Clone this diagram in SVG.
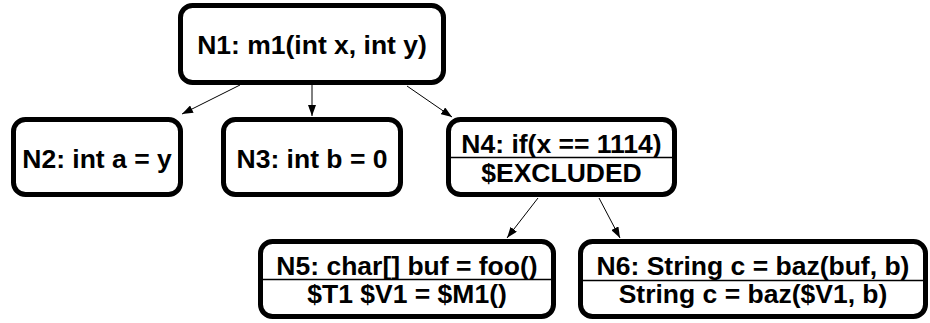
<svg xmlns="http://www.w3.org/2000/svg" width="930" height="323" viewBox="0 0 930 323">
  <style>
    .box { fill: #ffffff; stroke: #000000; stroke-width: 5; }
    .sep { stroke: #000000; stroke-width: 1.5; }
    .lbl { font-family: "Liberation Sans", Arial, sans-serif; font-weight: bold; font-size: 26.5px; fill: #000000; text-anchor: middle; }
    .edge { stroke: #000000; stroke-width: 1; fill: none; marker-end: url(#head); }
  </style>
  <defs>
    <marker id="head" markerUnits="userSpaceOnUse" markerWidth="12" markerHeight="8" refX="11" refY="4" orient="auto">
      <path d="M0,0 L11,4 L0,8 z" fill="#000000"/>
    </marker>
  </defs>

  <rect x="0" y="0" width="930" height="323" fill="#ffffff"/>

  <g id="connectors">
    <line class="edge" x1="240" y1="85" x2="182" y2="114"/>
    <line class="edge" x1="312" y1="85" x2="312" y2="116"/>
    <line class="edge" x1="407" y1="86" x2="452" y2="117"/>
    <line class="edge" x1="538" y1="198" x2="507" y2="238"/>
    <line class="edge" x1="599" y1="198" x2="620" y2="238"/>
  </g>

  <g id="N1">
    <rect class="box" x="180.5" y="5.5" width="263" height="77" rx="12"/>
    <text class="lbl" x="312" y="54">N1: m1(int x, int y)</text>
  </g>

  <g id="N2">
    <rect class="box" x="13.5" y="119.5" width="167" height="75" rx="12"/>
    <text class="lbl" x="97" y="168">N2: int a = y</text>
  </g>

  <g id="N3">
    <rect class="box" x="223.5" y="119.5" width="177" height="75" rx="12"/>
    <text class="lbl" x="312" y="168">N3: int b = 0</text>
  </g>

  <g id="N4">
    <rect class="box" x="448.5" y="119.5" width="226" height="75" rx="12"/>
    <line class="sep" x1="451" y1="157.5" x2="672" y2="157.5"/>
    <text class="lbl" x="561.5" y="153">N4: if(x == 1114)</text>
    <text class="lbl" x="561.5" y="182">$EXCLUDED</text>
  </g>

  <g id="N5">
    <rect class="box" x="260.5" y="241.5" width="293" height="75" rx="12"/>
    <line class="sep" x1="263" y1="279.5" x2="551" y2="279.5"/>
    <text class="lbl" x="407" y="275">N5: char[] buf = foo()</text>
    <text class="lbl" x="407" y="303">$T1 $V1 = $M1()</text>
  </g>

  <g id="N6">
    <rect class="box" x="580.5" y="241.5" width="345" height="75" rx="12"/>
    <line class="sep" x1="583" y1="280.5" x2="923" y2="280.5"/>
    <text class="lbl" x="753" y="275">N6: String c = baz(buf, b)</text>
    <text class="lbl" x="753" y="303">String c = baz($V1, b)</text>
  </g>
</svg>
